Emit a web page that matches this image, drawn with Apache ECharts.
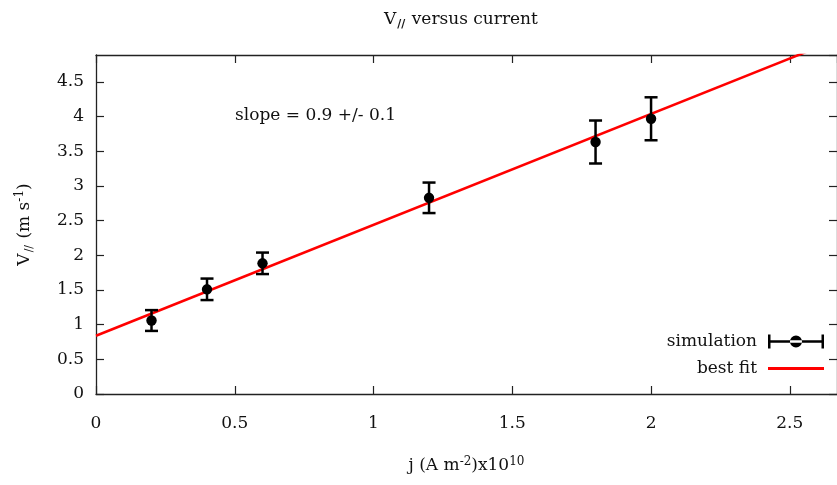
<!DOCTYPE html>
<html>
<head>
<meta charset="utf-8">
<script src="https://cdn.jsdelivr.net/npm/echarts@6/dist/echarts.min.js"></script>
<style>
html,body{margin:0;padding:0;background:#fff;}
#chart{width:837px;height:485px;}
</style>
</head>
<body>
<div id="chart"></div>
<script>
// ---- data ----
const simX = [0.2, 0.4, 0.6, 1.2, 1.8, 2.0];
const simY = [1.06, 1.51, 1.885, 2.83, 3.635, 3.97];
const simErr = [0.15, 0.155, 0.155, 0.22, 0.31, 0.31];
const fitX = [0, 2.67];
const fitY = [0.84, 5.112];
const xTicks = [0, 0.5, 1, 1.5, 2, 2.5];
const yTicks = [0, 0.5, 1, 1.5, 2, 2.5, 3, 3.5, 4, 4.5];
const slopeText = 'slope = 0.9 +/- 0.1';

const FONT = 'DejaVu Serif';
const FS = 17;
const chart = echarts.init(document.getElementById('chart'), null, {renderer: 'canvas'});

const simData = simX.map((x, i) => [x, simY[i], simErr[i]]);
const fitData = fitX.map((x, i) => [x, fitY[i]]);

function fmt(v) {
  for (const t of xTicks.concat(yTicks)) { if (Math.abs(t - v) < 1e-6) return String(t); }
  return '';
}

const axisLine = {show: true, onZero: false, lineStyle: {color: '#222', width: 1.3}};
const tick = {show: true, inside: true, length: 8, lineStyle: {color: '#222', width: 1.2}};

const option = {
  backgroundColor: '#fff',
  animation: false,
  title: {
    text: '{n|V}{s|//}{n| versus current}',
    left: 379, top: 4,
    textStyle: {
      rich: {
        n: {fontFamily: FONT, fontSize: FS, color: '#111', fontWeight: 'normal'},
        s: {fontFamily: FONT, fontSize: 11, color: '#111', verticalAlign: 'bottom', padding: [10, 1, 0, 1]}
      }
    }
  },
  grid: {left: 96, right: -1, top: 55, bottom: 91},
  xAxis: [{
    type: 'value', min: 0, max: 2.67, interval: 0.5,
    axisLine: axisLine, axisTick: tick, splitLine: {show: false},
    axisLabel: {fontFamily: FONT, fontSize: FS, color: '#111', margin: 21, showMaxLabel: false,
      formatter: v => fmt(v)},
    name: '{n|j (A m}{p|-2}{n|)x10}{p|10}',
    nameLocation: 'middle', nameGap: 62,
    nameTextStyle: {
      rich: {
        n: {fontFamily: FONT, fontSize: FS, color: '#111'},
        p: {fontFamily: FONT, fontSize: 12, color: '#111', verticalAlign: 'top', padding: [0, 0, 8, 0]}
      }
    }
  }, {
    type: 'value', position: 'top', min: 0, max: 2.67, interval: 0.5,
    axisLine: axisLine, axisTick: tick, axisLabel: {show: false}, splitLine: {show: false}
  }],
  yAxis: [{
    type: 'value', min: 0, max: 4.89, interval: 0.5,
    axisLine: axisLine, axisTick: tick, splitLine: {show: false},
    axisLabel: {fontFamily: FONT, fontSize: FS, color: '#111', margin: 12, showMaxLabel: false,
      formatter: v => fmt(v)},
    name: '{n|V}{s|//}{n| (m s}{p|-1}{n|)}',
    nameLocation: 'middle', nameGap: 61, nameRotate: 90,
    nameTextStyle: {
      rich: {
        n: {fontFamily: FONT, fontSize: FS, color: '#111'},
        s: {fontFamily: FONT, fontSize: 11, color: '#111', verticalAlign: 'bottom', padding: [10, 1, 0, 1]},
        p: {fontFamily: FONT, fontSize: 12, color: '#111', verticalAlign: 'top', padding: [0, 0, 8, 0]}
      }
    }
  }, {
    type: 'value', position: 'right', min: 0, max: 4.89, interval: 0.5,
    axisLine: axisLine, axisTick: tick, axisLabel: {show: false}, splitLine: {show: false}
  }],
  legend: [{
    data: [{name: 'simulation', icon: 'path://M0,0h2.5v14h-2.5z M53.5,0h2.5v14h-2.5z M0,5.75h56v2.5h-56z M22,7a6,6 0 1,0 12,0a6,6 0 1,0 -12,0z'}],
    right: 13, top: 333, padding: 0, align: 'right', orient: 'vertical',
    itemWidth: 56, itemHeight: 14,
    textStyle: {fontFamily: FONT, fontSize: FS, color: '#111', padding: [0, 6, 0, 0]}
  }, {
    data: [{name: 'best fit', icon: 'path://M0,0h56v3h-56z'}],
    right: 13, top: 360, padding: 0, align: 'right', orient: 'vertical',
    itemWidth: 56, itemHeight: 3,
    textStyle: {fontFamily: FONT, fontSize: FS, color: '#111', padding: [0, 6, 0, 0]}
  }],
  graphic: [{
    type: 'text', left: 235, top: 107,
    style: {text: slopeText, font: FS + 'px "' + FONT + '"', fill: '#111'}
  }],
  series: [{
    name: 'best fit', type: 'line', data: fitData, showSymbol: false, clip: true,
    lineStyle: {color: '#ff0000', width: 2.5}, itemStyle: {color: '#ff0000'}, z: 3
  }, {
    name: 'simulation', type: 'custom', data: simData, clip: false,
    itemStyle: {color: '#000'},
    encode: {x: 0, y: 1},
    renderItem: function (params, api) {
      const x = api.value(0), y = api.value(1), e = api.value(2);
      const top = api.coord([x, y + e]);
      const bot = api.coord([x, y - e]);
      const c = api.coord([x, y]);
      const hw = 6.5;
      const st = {stroke: '#000', lineWidth: 2.5};
      return {
        type: 'group',
        children: [
          {type: 'line', shape: {x1: top[0], y1: top[1], x2: bot[0], y2: bot[1]}, style: st},
          {type: 'line', shape: {x1: top[0] - hw, y1: top[1], x2: top[0] + hw, y2: top[1]}, style: st},
          {type: 'line', shape: {x1: bot[0] - hw, y1: bot[1], x2: bot[0] + hw, y2: bot[1]}, style: st},
          {type: 'circle', shape: {cx: c[0], cy: c[1], r: 5.2}, style: {fill: '#000'}}
        ]
      };
    },
    z: 4
  }]
};
chart.setOption(option);
</script>
</body>
</html>
